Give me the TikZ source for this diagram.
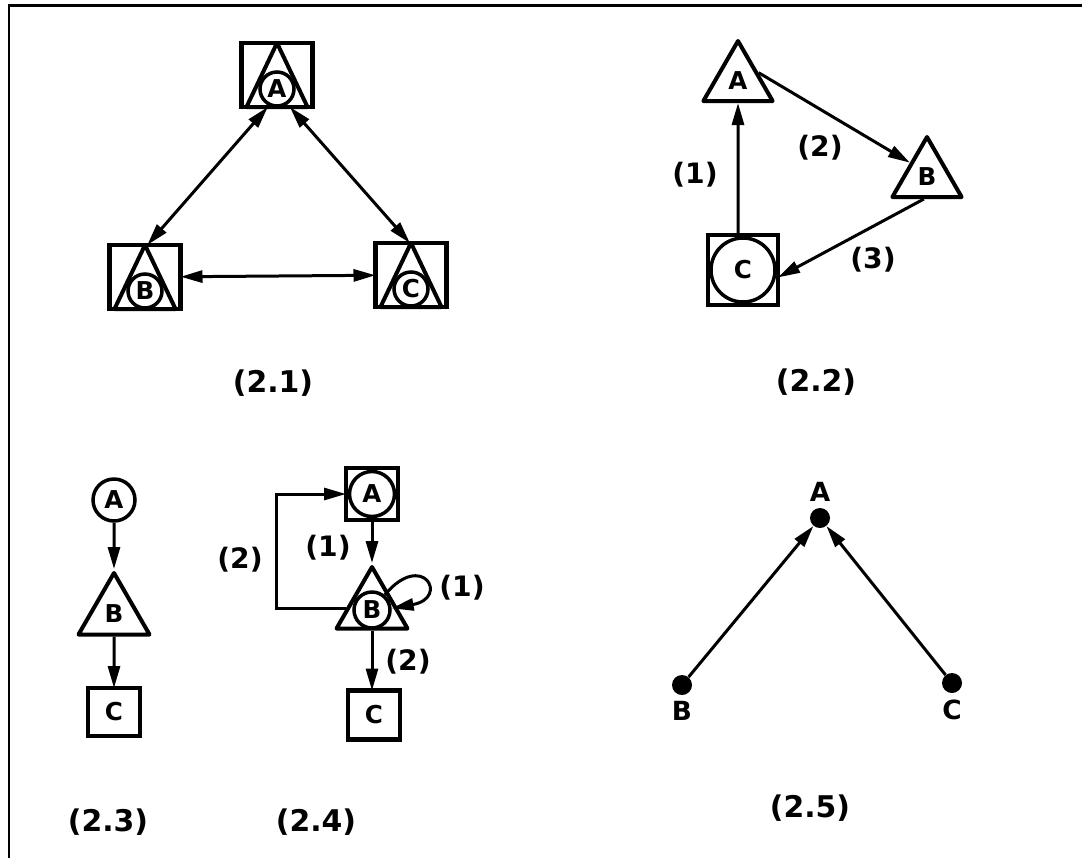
\documentclass[tikz,border=0pt]{standalone}
\usepackage{fontspec}
\setsansfont{DejaVu Sans}
\usepackage{tikz}
\usetikzlibrary{positioning, arrows.meta, shapes.geometric, calc}

\begin{document}
\begin{tikzpicture}[x=0.2mm, y=-0.2mm,
    sqbox/.style={draw, line width=0.9mm, inner sep=0pt, outer sep=0pt, minimum width=14.2mm, minimum height=12.8mm},
    tribox/.style={draw, line width=0.8mm, line join=round, regular polygon, regular polygon sides=3, inner sep=0pt, minimum size=16mm},
    circbox/.style={draw, line width=0.7mm, circle, inner sep=0pt, minimum size=6.8mm},
    fdot/.style={circle, fill=black, inner sep=0pt, minimum size=4mm},
    lettr/.style={font=\sffamily\bfseries\fontsize{14}{16}\selectfont},
    bigl/.style={font=\sffamily\bfseries\fontsize{15}{17}\selectfont},
    lbl/.style={font=\sffamily\bfseries\fontsize{16}{18}\selectfont},
    captxt/.style={font=\sffamily\bfseries\fontsize{17}{20}\selectfont},
    arr/.style={line width=0.6mm, -{Triangle[length=4.4mm, width=2.4mm]}},
    darr/.style={line width=0.6mm, {Triangle[length=4.4mm, width=2.4mm]}-{Triangle[length=4.4mm, width=2.4mm]}}
]
    \useasboundingbox (0,0) rectangle (1082,858);
    % frame
    \draw[line width=0.6mm] (9,5) -- (1082,5);
    \draw[line width=0.45mm] (9,4) -- (9,858);

    % (2.1) square, triangle and circle together
    \foreach \n/\x/\y in {A/277/75, B/145/277, C/411/275} {
        \node[sqbox] (sq\n) at (\x,\y) {};
        \draw[line width=0.8mm, line join=round] (sq\n.north)
            -- ($(sq\n.south west)!0.07!(sq\n.south east)$)
            -- ($(sq\n.south west)!0.93!(sq\n.south east)$) -- cycle;
        \node[circbox, lettr] (c\n) at (\x,\y+14) {\n};
    }
    \draw[darr] (sqA.254) -- (sqB.86);
    \draw[darr] (sqA.292) -- (sqC.92);
    \draw[darr] (sqB) -- (sqC);

    % (2.2)
    \node[tribox, lettr] (tA2) at (738,81) {A};
    \node[tribox, lettr] (tB2) at (927,177) {B};
    \node[sqbox, minimum width=14mm, minimum height=14mm] (sqC2) at (743,270) {};
    \node[circbox, lettr, minimum size=12.8mm] (cC2) at (743,270) {C};
    \draw[arr] (sqC2.north -| tA2) -- (tA2.south);
    \draw[arr] (tA2.22) -- (tB2.140);
    \draw[arr] (tB2.262) -- (sqC2.348);
    \node[lbl] (l22a) at (695,175) {(1)};
    \node[lbl] (l22b) at (820,148) {(2)};
    \node[lbl] (l22c) at (873,260) {(3)};

    % (2.3)
    \node[circbox, lettr, minimum size=8.4mm] (cA3) at (114,500) {A};
    \node[tribox, lettr, minimum size=16.4mm] (tB3) at (114,614) {B};
    \node[sqbox, lettr, minimum width=10.4mm, minimum height=9.6mm] (sqC3) at (114,712) {C};
    \draw[arr] (cA3) -- (tB3);
    \draw[arr] (tB3) -- (sqC3);

    % (2.4)
    \node[sqbox, minimum width=10.4mm, minimum height=10.4mm] (sqA4) at (372,494) {};
    \node[circbox, lettr, minimum size=9mm] (cA4) at (372,494) {A};
    \node[tribox, minimum size=16.4mm] (tB4) at (372,608) {};
    \node[circbox, lettr, minimum size=7.2mm] (cB4) at (372,610) {B};
    \node[sqbox, lettr, minimum width=10.4mm, minimum height=9.8mm] (sqC4) at (374,715) {C};
    \draw[arr] (sqA4) -- (tB4);
    \draw[arr] (tB4.south) -- (tB4.south |- sqC4.north);
    \draw[arr] (tB4.west) -- ++(-70,0) |- (sqA4.west);
    \draw[arr] (cB4.50) to[out=50, in=10, looseness=10] (cB4.5);
    \node[lbl] (l24a) at (240,560) {(2)};
    \node[lbl] (l24b) at (328,548) {(1)};
    \node[lbl] (l24c) at (462,588) {(1)};
    \node[lbl] (l24d) at (408,662) {(2)};

    % (2.5)
    \node[fdot] (dA) at (820,518) {};
    \node[fdot] (dB) at (682,685) {};
    \node[fdot] (dC) at (952,683) {};
    \node[bigl, above=0pt of dA] (lA) {A};
    \node[bigl, below=0pt of dB] (lB) {B};
    \node[bigl, below=0pt of dC] (lC) {C};
    \draw[arr] (dB) -- (dA);
    \draw[arr] (dC) -- (dA);

    % captions
    \foreach \x/\y/\t [count=\i] in {273/383/2.1, 816/382/2.2, 108/822/2.3, 316/822/2.4, 810/808/2.5} {
        \node[captxt] (cap\i) at (\x,\y) {(\t)};
    }
\end{tikzpicture}
\end{document}
